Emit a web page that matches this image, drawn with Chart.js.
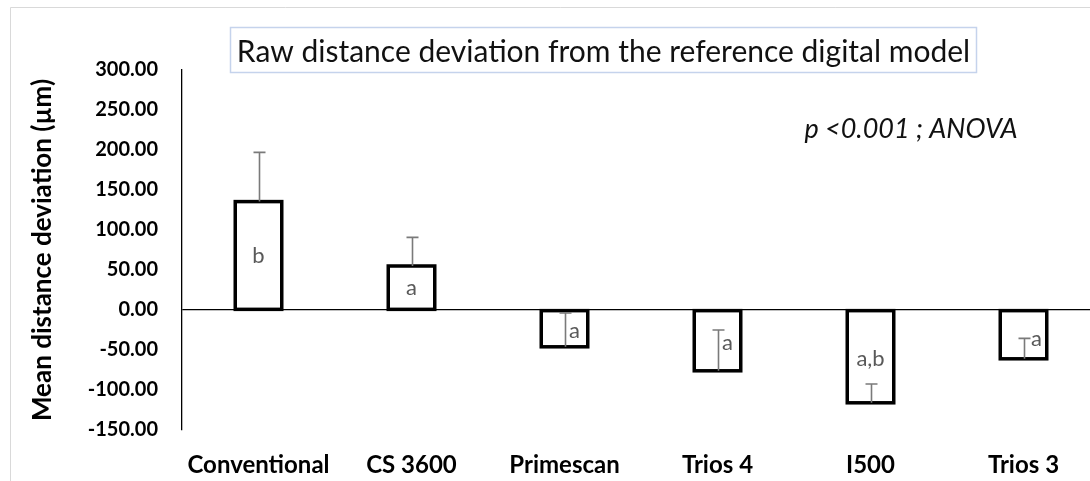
<!DOCTYPE html>
<html>
<head>
<meta charset="utf-8">
<script src="https://cdn.jsdelivr.net/npm/chart.js@4.4.1/dist/chart.umd.min.js"></script>
<style>
  html, body { margin: 0; padding: 0; background: #fff; overflow: hidden; width: 1090px; height: 481px; }
  #wrap { position: absolute; left: 0; top: 0; width: 1110px; height: 481px; }
  canvas { display: block; }
</style>
</head>
<body>
<div id="wrap"><canvas id="c" width="1110" height="481" style="width:1110px;height:481px"></canvas></div>
<script>
// ---- data ----
const categories = ['Conventional', 'CS 3600', 'Primescan', 'Trios 4', 'I500', 'Trios 3'];
const meanDeviation = [135.5, 55.0, -46.0, -76.0, -116.0, -61.0];
const sdDeviation = [61.5, 35.8, 42.3, 51.0, 23.5, 25.5];
const groupLetters = ['b', 'a', 'a', 'a', 'a,b', 'a'];
const yMin = -150;
const yMax = 300;
const yStep = 50;
const chartTitle = 'Raw distance deviation from the reference digital model';
const yAxisTitle = 'Mean distance deviation (\u00b5m)';
const statNote = 'p <0.001 ; ANOVA';

// ---- styles ----
const FONT = 'Lato, "Open Sans", "DejaVu Sans", sans-serif';
const letterShiftX = [0, 0, 10, 10, 0, 13];
const letterShiftY = [0, 0, 2, 2, 2, 4];

const decorPlugin = {
  id: 'decor',
  beforeDraw(chart) {
    const ctx = chart.ctx;
    ctx.save();
    ctx.fillStyle = '#fff';
    ctx.fillRect(0, 0, chart.width, chart.height);
    ctx.strokeStyle = '#d9d9d9';
    ctx.lineWidth = 1;
    ctx.beginPath();
    ctx.moveTo(10.5, 481);
    ctx.lineTo(10.5, 7.5);
    ctx.lineTo(chart.width, 7.5);
    ctx.stroke();
    ctx.restore();
  },
  afterDatasetsDraw(chart) {
    const ctx = chart.ctx;
    const meta = chart.getDatasetMeta(0);
    const ys = chart.scales.y;
    ctx.save();
    // bar outlines, centred on the bar edges
    ctx.strokeStyle = '#000';
    ctx.lineWidth = 3.5;
    ctx.lineJoin = 'miter';
    meta.data.forEach((bar) => {
      const left = bar.x - bar.width / 2;
      const top = Math.min(bar.y, bar.base);
      const h = Math.abs(bar.base - bar.y);
      ctx.strokeRect(left, top, bar.width, h);
    });
    // error bars
    ctx.strokeStyle = '#7a7a7a';
    ctx.lineWidth = 1.6;
    meta.data.forEach((bar, i) => {
      const x = Math.round(bar.x) + 0.5;
      const y0 = ys.getPixelForValue(meanDeviation[i]);
      const y1 = ys.getPixelForValue(meanDeviation[i] + sdDeviation[i]);
      ctx.beginPath();
      ctx.moveTo(x, y0);
      ctx.lineTo(x, y1);
      ctx.moveTo(x - 6, y1);
      ctx.lineTo(x + 6, y1);
      ctx.stroke();
    });
    // group letters
    ctx.fillStyle = '#595959';
    ctx.font = '22px ' + FONT;
    ctx.textAlign = 'center';
    ctx.textBaseline = 'middle';
    meta.data.forEach((bar, i) => {
      const yc = (bar.y + bar.base) / 2;
      ctx.fillText(groupLetters[i], bar.x + letterShiftX[i], yc + letterShiftY[i]);
    });
    ctx.restore();
  },
  afterDraw(chart) {
    const ctx = chart.ctx;
    ctx.save();
    ctx.fillStyle = '#fff';
    ctx.fillRect(230, 27, 747, 46);
    ctx.strokeStyle = '#c5d3ec';
    ctx.lineWidth = 1.5;
    ctx.strokeRect(230.5, 27.5, 746, 45);
    ctx.fillStyle = '#111';
    ctx.font = '30px ' + FONT;
    ctx.textAlign = 'center';
    ctx.textBaseline = 'middle';
    ctx.fillText(chartTitle, 603.5, 52);
    ctx.font = 'italic 27px ' + FONT;
    ctx.fillText(statNote, 911, 129);
    ctx.restore();
  }
};

new Chart(document.getElementById('c'), {
  type: 'bar',
  data: {
    labels: categories,
    datasets: [{
      data: meanDeviation,
      backgroundColor: '#ffffff',
      borderWidth: 0,
      barPercentage: 46.5 / 153,
      categoryPercentage: 1.0
    }]
  },
  options: {
    responsive: false,
    animation: false,
    devicePixelRatio: 1,
    layout: { padding: { top: 70, right: 10, bottom: 0, left: 0 } },
    plugins: {
      legend: { display: false },
      tooltip: { enabled: false },
      title: { display: false }
    },
    scales: {
      x: {
        grid: { display: false },
        border: { display: false },
        ticks: {
          color: '#000',
          font: { family: FONT, size: 24, weight: 'bold' },
          padding: 13,
          maxRotation: 0,
          autoSkip: false
        },
        afterFit(scale) { scale.height = 51; }
      },
      y: {
        min: yMin,
        max: yMax,
        border: { display: true, color: '#000', width: 1.3 },
        grid: {
          drawTicks: false,
          color: (c) => (c.tick && c.tick.value === 0) ? '#000' : 'rgba(0,0,0,0)',
          lineWidth: 1.3
        },
        ticks: {
          stepSize: yStep,
          color: '#000',
          font: { family: FONT, size: 20, weight: 'bold' },
          padding: 24,
          callback: (v) => Number(v).toFixed(2)
        },
        title: {
          display: true,
          text: yAxisTitle,
          color: '#000',
          font: { family: FONT, size: 26, weight: 'bold' },
          padding: { top: 27, bottom: 0 }
        },
        afterFit(scale) { scale.width = 182; }
      }
    }
  },
  plugins: [decorPlugin]
});
</script>
</body>
</html>
